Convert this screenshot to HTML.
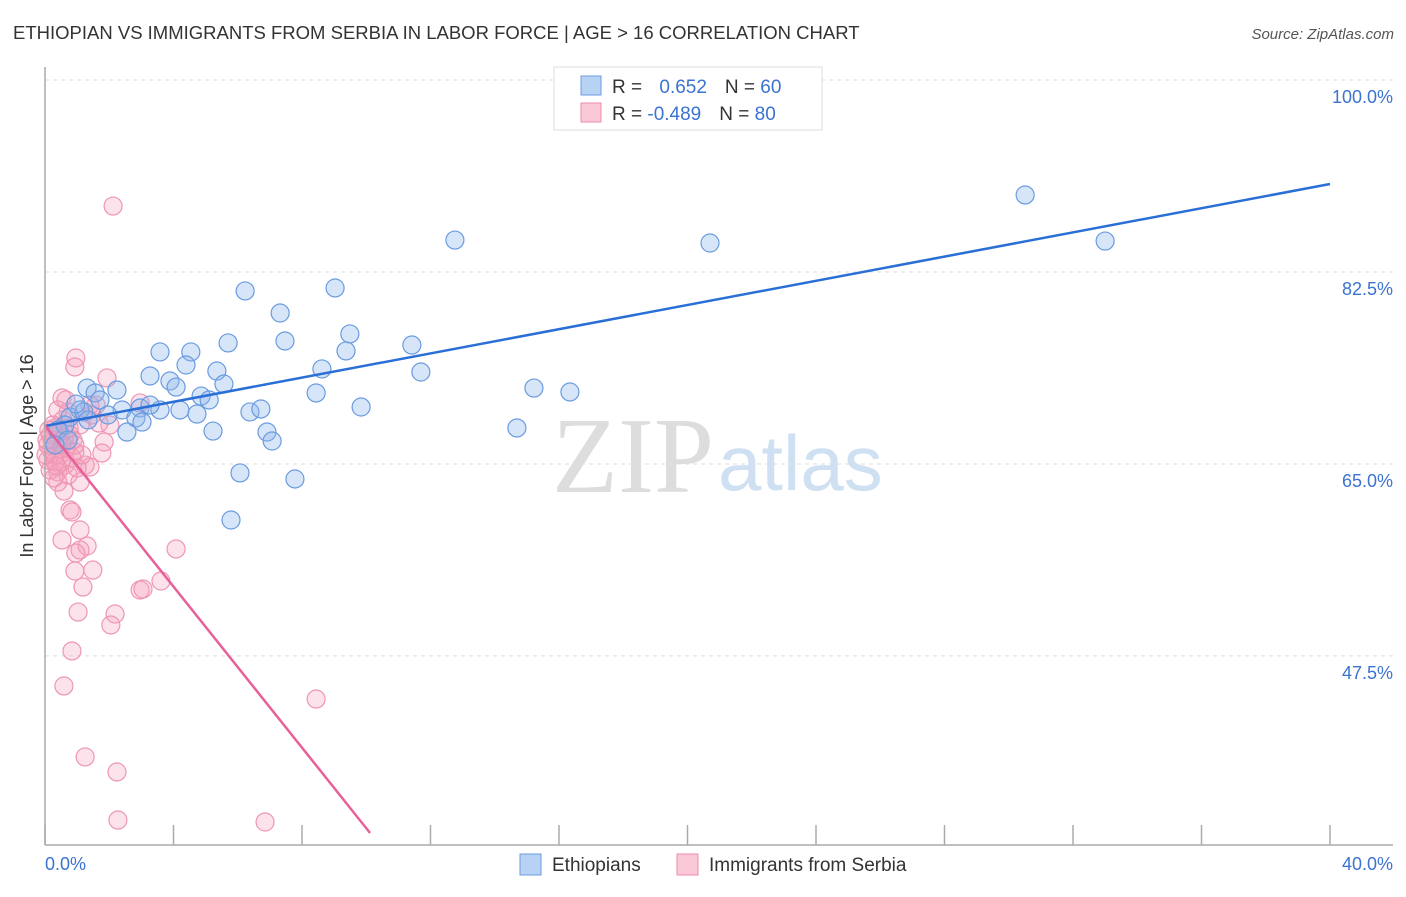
<!DOCTYPE html>
<html><head><meta charset="utf-8"><style>
body{margin:0;background:#fff;font-family:"Liberation Sans",sans-serif}
</style></head><body>
<svg id="chart" width="1406" height="892" xmlns="http://www.w3.org/2000/svg" font-family="Liberation Sans, sans-serif">
<text x="13" y="39" font-size="18.5" fill="#333">ETHIOPIAN VS IMMIGRANTS FROM SERBIA IN LABOR FORCE | AGE &gt; 16 CORRELATION CHART</text>
<text x="1394" y="39" font-size="15" fill="#555" text-anchor="end" font-style="italic">Source: ZipAtlas.com</text>
<text x="714" y="492" font-size="108" fill="#ddd" text-anchor="end" font-family="Liberation Serif, serif">ZIP</text>
<text x="718" y="490" font-size="78" fill="#cfe0f3">atlas</text>
<g id="grid"></g><g id="pts"></g><g id="lines"></g>
<line x1="45" y1="67" x2="45" y2="845" stroke="#aaa" stroke-width="1.5"/>
<line x1="45" y1="845" x2="1393" y2="845" stroke="#aaa" stroke-width="1.5"/>
<text transform="translate(33,456) rotate(-90)" font-size="18" fill="#333" text-anchor="middle">In Labor Force | Age &gt; 16</text>
<text x="45" y="870" font-size="18" fill="#3b73d1">0.0%</text>
<text x="1393" y="870" font-size="18" fill="#3b73d1" text-anchor="end">40.0%</text>
<g>
<rect x="554" y="67" width="268" height="63" fill="#fff" stroke="#ddd"/>
<rect x="581" y="76" width="20" height="19" fill="#b8d2f3" stroke="#6b9ce0"/>
<rect x="581" y="103" width="20" height="19" fill="#fbc8d7" stroke="#ec8eaa"/>
<text x="612" y="93" font-size="19" fill="#333">R = <tspan fill="#3b73d1" dx="12">0.652</tspan><tspan dx="18" fill="#333">N = </tspan><tspan fill="#3b73d1">60</tspan></text>
<text x="612" y="120" font-size="19" fill="#333">R = <tspan fill="#3b73d1">-0.489</tspan><tspan dx="18" fill="#333">N = </tspan><tspan fill="#3b73d1">80</tspan></text>
</g>
<g>
<rect x="520" y="854" width="21" height="21" fill="#b8d2f3" stroke="#6b9ce0"/>
<text x="552" y="871" font-size="19" fill="#333">Ethiopians</text>
<rect x="677" y="854" width="21" height="21" fill="#fbc8d7" stroke="#ec8eaa"/>
<text x="709" y="871" font-size="19" fill="#333">Immigrants from Serbia</text>
</g>
</svg>
<script>
const yTicks=[100,82.5,65,47.5];
const xTicks=[0,4,8,12,16,20,24,28,32,36,40];
const bluePx=[[455,240],[710,243],[1025,195],[1105,241],[245,291],[335,288],[280,313],[228,343],[285,341],[350,334],[346,351],[412,345],[160,352],[191,352],[186,365],[217,371],[150,376],[170,381],[176,387],[322,369],[421,372],[117,390],[87,388],[95,393],[534,388],[570,392],[316,393],[201,396],[209,400],[224,384],[100,400],[80,410],[122,410],[140,408],[160,410],[180,410],[197,414],[250,412],[261,409],[361,407],[136,418],[108,415],[142,422],[127,432],[213,431],[267,432],[272,441],[517,428],[240,473],[295,479],[231,520],[70,417],[65,425],[58,430],[68,440],[55,445],[84,412],[76,404],[150,405],[88,420]];
const pinkPx=[[113,206],[76,358],[75,367],[107,378],[140,403],[96,405],[62,398],[68,412],[58,410],[92,415],[63,420],[55,428],[50,435],[70,435],[73,440],[62,445],[104,442],[51,450],[75,452],[60,455],[102,453],[48,460],[55,462],[65,465],[85,465],[90,467],[50,470],[58,472],[68,475],[80,482],[64,491],[110,425],[70,510],[72,512],[80,530],[62,540],[87,546],[80,550],[76,553],[93,570],[75,571],[83,587],[140,590],[143,589],[161,581],[176,549],[78,612],[115,614],[111,625],[72,651],[64,686],[316,699],[85,757],[117,772],[118,820],[265,822],[52,440],[55,455],[60,432],[66,448],[72,458],[48,445],[58,482],[54,478],[80,425],[66,400],[90,405],[99,423],[77,468],[61,462],[53,425],[49,430],[64,438],[69,428],[57,466],[46,455],[47,440],[75,445],[82,455]];
const blueX=bluePx.map(p=>+((p[0]-45)/32.125).toFixed(2));
const blueY=bluePx.map(p=>+(100-(p[1]-80)/10.97).toFixed(2));
const pinkX=pinkPx.map(p=>+((p[0]-45)/32.125).toFixed(2));
const pinkY=pinkPx.map(p=>+(100-(p[1]-80)/10.97).toFixed(2));
const blueTrend=[0,68.46,40,90.52];
const pinkTrend=[0,68.5,10.12,31.36];
const sx=v=>45+v*32.125, sy=v=>80+(100-v)*10.97;
const NS='http://www.w3.org/2000/svg';
function mk(tag,attrs,parent){const e=document.createElementNS(NS,tag);for(const k in attrs)e.setAttribute(k,attrs[k]);document.getElementById(parent).appendChild(e);return e;}
yTicks.forEach(t=>{
 const l=mk('line',{x1:45,x2:1393,y1:sy(t),y2:sy(t),stroke:'#ddd','stroke-dasharray':'4,4'},'grid');
 
 
 const tx=mk('text',{x:1393,y:sy(t)+23,'font-size':18,fill:'#3b73d1','text-anchor':'end'},'grid');
 tx.textContent=t.toFixed(1)+'%';
 
 
});
xTicks.forEach(t=>{
 const l=mk('line',{x1:sx(t),x2:sx(t),y1:825,y2:845,stroke:'#aaa','stroke-width':1.5},'grid');
 
 
});
pinkX.forEach((x,i)=>{
 const c=mk('circle',{cx:sx(x),cy:sy(pinkY[i]),r:9,fill:'rgba(246,160,188,0.3)',stroke:'#ee96b2','stroke-width':1.2},'pts');
 
 
});
blueX.forEach((x,i)=>{
 const c=mk('circle',{cx:sx(x),cy:sy(blueY[i]),r:9,fill:'rgba(140,180,236,0.35)',stroke:'#6a9be0','stroke-width':1.2},'pts');
 
 
});
const bl=mk('line',{x1:sx(blueTrend[0]),y1:sy(blueTrend[1]),x2:sx(blueTrend[2]),y2:sy(blueTrend[3]),stroke:'#2a6fd6','stroke-width':2.5},'lines');


const pl=mk('line',{x1:sx(pinkTrend[0]),y1:sy(pinkTrend[1]),x2:sx(pinkTrend[2]),y2:sy(pinkTrend[3]),stroke:'#e8609a','stroke-width':2.5},'lines');


</script>
</body></html>
